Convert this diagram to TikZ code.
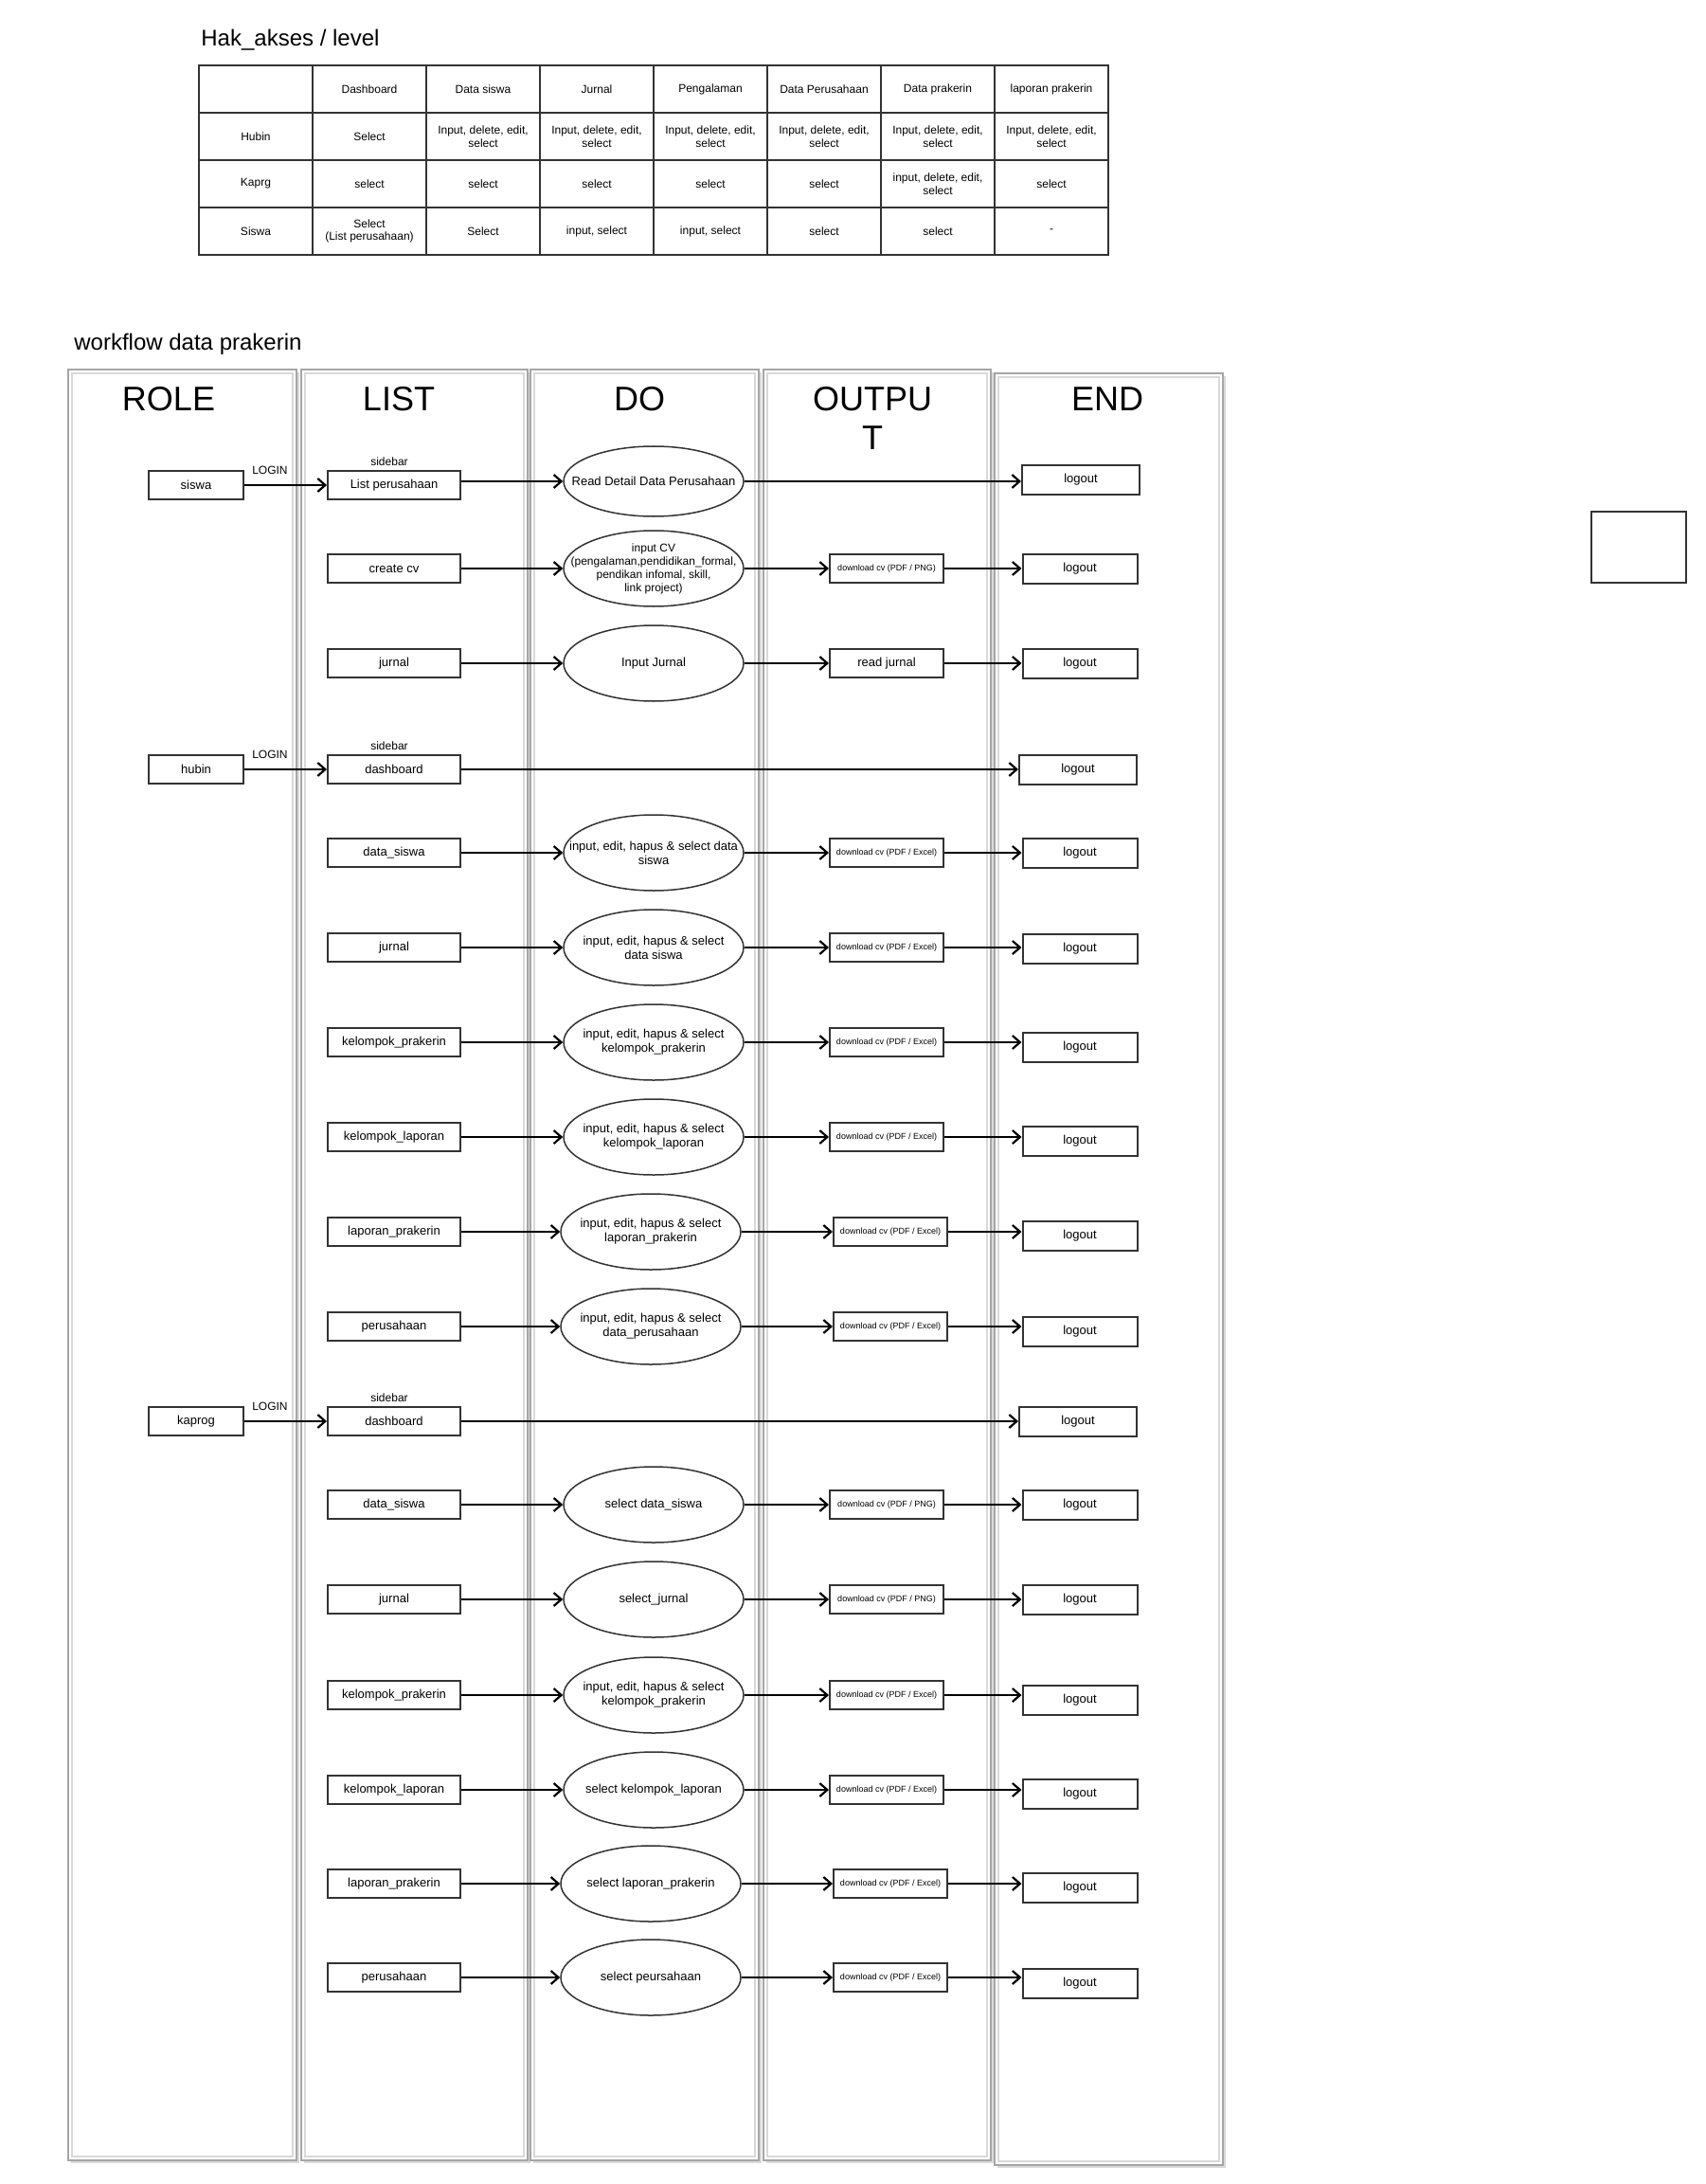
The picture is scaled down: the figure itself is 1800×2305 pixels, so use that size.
\documentclass[tikz,border=0pt]{standalone}
\usepackage{fontspec}
\setmainfont{Liberation Sans}
\usepackage{tikz}
\usetikzlibrary{positioning}
\usetikzlibrary{shapes.geometric}
\usetikzlibrary{arrows.meta}
\usetikzlibrary{shadows}

\begin{document}
\begin{tikzpicture}[x=0.5pt,y=-0.5pt,
  >={Straight Barb[length=4pt,width=7pt]},
  tline/.style={draw=black!80, line width=0.9pt},
  cell/.style={inner sep=0pt, align=center, font=\fontsize{6}{6.8}\selectfont},
  title/.style={anchor=west, inner sep=0pt, font=\fontsize{12}{14}\selectfont},
  lane/.style={draw=gray!70, line width=0.9pt, fill=white, drop shadow={shadow xshift=1.5pt, shadow yshift=-1.5pt, fill=gray!30, opacity=1}},
  lanein/.style={draw=gray!30, line width=0.6pt},
  hdr/.style={inner sep=0pt, align=center, font=\fontsize{18}{20.5}\selectfont},
  box/.style={draw=black!80, line width=1pt, minimum width=70pt, minimum height=15pt, inner sep=1pt, font=\fontsize{6.5}{7.5}\selectfont},
  rolebox/.style={box, minimum width=50pt},
  outbox/.style={box, minimum width=60pt, font=\fontsize{4.5}{5.5}\selectfont},
  endbox/.style={box, minimum width=60.5pt, minimum height=15.5pt},
  procshape/.style={ellipse, draw=black!80, line width=0.75pt, minimum width=95pt, minimum height=40pt, inner sep=0pt},
  ptxt/.style={inner sep=0pt, align=center, font=\fontsize{6.5}{7.5}\selectfont},
  proc/.style={procshape, label={[ptxt]center:#1}},
  procsm/.style={procshape, label={[ptxt, font=\fontsize{6}{7}\selectfont]center:#1}},
  lbl/.style={inner sep=0pt, font=\fontsize{6}{7}\selectfont},
  flow/.style={->, line width=1.1pt}
]
\useasboundingbox (0,0) rectangle (1800,2305);

% Hak akses table
\node[title] (hakTitle) at (212,42) {Hak\_akses / level};
\draw[tline] (210,69) rectangle (1170,269);
\draw[tline] (330,69) -- (330,269);
\draw[tline] (450,69) -- (450,269);
\draw[tline] (570,69) -- (570,269);
\draw[tline] (690,69) -- (690,269);
\draw[tline] (810,69) -- (810,269);
\draw[tline] (930,69) -- (930,269);
\draw[tline] (1050,69) -- (1050,269);
\draw[tline] (210,119) -- (1170,119);
\draw[tline] (210,169) -- (1170,169);
\draw[tline] (210,219) -- (1170,219);

\node[cell] (tDash) at (390,94) {Dashboard};
\node[cell] (tSiswa) at (510,94) {Data siswa};
\node[cell] (tJurnal) at (630,94) {Jurnal};
\node[cell] (tPeng) at (750,94) {Pengalaman};
\node[cell] (tPer) at (870,94) {Data Perusahaan};
\node[cell] (tPrak) at (990,94) {Data prakerin};
\node[cell] (tLap) at (1110,94) {laporan prakerin};

\node[cell] (tHubin) at (270,144) {Hubin};
\node[cell] (tHubin1) at (390,144) {Select};
\node[cell] (tHubin2) at (510,144) {Input, delete, edit,\\select};
\node[cell] (tHubin3) at (630,144) {Input, delete, edit,\\select};
\node[cell] (tHubin4) at (750,144) {Input, delete, edit,\\select};
\node[cell] (tHubin5) at (870,144) {Input, delete, edit,\\select};
\node[cell] (tHubin6) at (990,144) {Input, delete, edit,\\select};
\node[cell] (tHubin7) at (1110,144) {Input, delete, edit,\\select};

\node[cell] (tKaprg) at (270,194) {Kaprg};
\node[cell] (tKaprg1) at (390,194) {select};
\node[cell] (tKaprg2) at (510,194) {select};
\node[cell] (tKaprg3) at (630,194) {select};
\node[cell] (tKaprg4) at (750,194) {select};
\node[cell] (tKaprg5) at (870,194) {select};
\node[cell] (tKaprg6) at (990,194) {input, delete, edit,\\select};
\node[cell] (tKaprg7) at (1110,194) {select};

\node[cell] (tSis) at (270,244) {Siswa};
\node[cell] (tSis1) at (390,244) {Select\\(List perusahaan)};
\node[cell] (tSis2) at (510,244) {Select};
\node[cell] (tSis3) at (630,244) {input, select};
\node[cell] (tSis4) at (750,244) {input, select};
\node[cell] (tSis5) at (870,244) {select};
\node[cell] (tSis6) at (990,244) {select};
\node[cell] (tSis7) at (1110,244) {-};

% Lanes
\node[title] (wfTitle) at (78,363) {workflow data prakerin};
\draw[lane] (72,390) rectangle (313,2280);
\draw[lane] (318,390) rectangle (557,2280);
\draw[lane] (560,390) rectangle (801,2280);
\draw[lane] (806,390) rectangle (1046,2280);
\draw[lane] (1050,394) rectangle (1291,2285);
\draw[lanein] (76,394) rectangle (309,2276);
\draw[lanein] (322,394) rectangle (553,2276);
\draw[lanein] (564,394) rectangle (797,2276);
\draw[lanein] (810,394) rectangle (1042,2276);
\draw[lanein] (1054,398) rectangle (1287,2281);

\node[hdr] (headRole) at (178,421) {ROLE};
\node[hdr] (headList) at (421,421) {LIST};
\node[hdr] (headDo) at (675,421) {DO};
\node[hdr] (headOut) at (921,441) {OUTPU\\T};
\node[hdr] (headEnd) at (1169,421) {END};

% Empty box
\node[draw=black!80, line width=1pt, minimum width=50pt, minimum height=37.5pt] (blank) at (1730,577.5) {};

% siswa
\node[rolebox] (siswa) at (207,512) {siswa};
\node[box] (sList) at (416,512) {List perusahaan};
\node[lbl, above=2pt of sList, xshift=-2.5pt] (sSide) {sidebar};
\node[proc={Read Detail Data Perusahaan}, minimum height=37pt] (sListDo) at (690,508) {};
\node[endbox, minimum width=62pt] (sListEnd) at (1141,506) {logout};
\draw[flow] (siswa) -- (sList) node[lbl, above=5.3pt, pos=0.31] (sLogin) {LOGIN};
\draw[flow] (sList.east |- sListDo) -- (sListDo);
\draw[flow] (sListDo) -- (sListDo -| sListEnd.west);

\node[box] (sCv) at (416,600) {create cv};
\node[procsm={input CV\\(pengalaman,pendidikan\_formal,\\pendikan infomal, skill,\\link project)}] (sCvDo) at (690,600) {};
\node[outbox] (sCvOut) at (936,600) {download cv (PDF / PNG)};
\node[endbox] (sCvEnd) at (1140,600) {logout};
\draw[flow] (sCv) -- (sCvDo);
\draw[flow] (sCvDo) -- (sCvOut);
\draw[flow] (sCvOut) -- (sCvEnd);

\node[box] (sJurnal) at (416,700) {jurnal};
\node[proc={Input Jurnal}] (sJurnalDo) at (690,700) {};
\node[outbox, font=\fontsize{6.5}{7.5}\selectfont] (sJurnalOut) at (936,700) {read jurnal};
\node[endbox] (sJurnalEnd) at (1140,700) {logout};
\draw[flow] (sJurnal) -- (sJurnalDo);
\draw[flow] (sJurnalDo) -- (sJurnalOut);
\draw[flow] (sJurnalOut) -- (sJurnalEnd);

% hubin
\node[rolebox] (hubin) at (207,812) {hubin};
\node[box] (hDash) at (416,812) {dashboard};
\node[lbl, above=2pt of hDash, xshift=-2.5pt] (hSide) {sidebar};
\node[endbox, minimum width=62pt] (hDashEnd) at (1138,812) {logout};
\draw[flow] (hubin) -- (hDash) node[lbl, above=5.3pt, pos=0.31] (hLogin) {LOGIN};
\draw[flow] (hDash) -- (hDashEnd);

\node[box] (hSiswa) at (416,900) {data\_siswa};
\node[proc={input, edit, hapus \& select data\\siswa}] (hSiswaDo) at (690,900) {};
\node[outbox] (hSiswaOut) at (936,900) {download cv (PDF / Excel)};
\node[endbox] (hSiswaEnd) at (1140,900) {logout};
\draw[flow] (hSiswa) -- (hSiswaDo);
\draw[flow] (hSiswaDo) -- (hSiswaOut);
\draw[flow] (hSiswaOut) -- (hSiswaEnd);

\node[box] (hJurnal) at (416,1000) {jurnal};
\node[proc={input, edit, hapus \& select\\data siswa}] (hJurnalDo) at (690,1000) {};
\node[outbox] (hJurnalOut) at (936,1000) {download cv (PDF / Excel)};
\node[endbox] (hJurnalEnd) at (1140,1001) {logout};
\draw[flow] (hJurnal) -- (hJurnalDo);
\draw[flow] (hJurnalDo) -- (hJurnalOut);
\draw[flow] (hJurnalOut) -- (hJurnalOut -| hJurnalEnd.west);

\node[box] (hKp) at (416,1100) {kelompok\_prakerin};
\node[proc={input, edit, hapus \& select\\kelompok\_prakerin}] (hKpDo) at (690,1100) {};
\node[outbox] (hKpOut) at (936,1100) {download cv (PDF / Excel)};
\node[endbox] (hKpEnd) at (1140,1105) {logout};
\draw[flow] (hKp) -- (hKpDo);
\draw[flow] (hKpDo) -- (hKpOut);
\draw[flow] (hKpOut) -- (hKpOut -| hKpEnd.west);

\node[box] (hKl) at (416,1200) {kelompok\_laporan};
\node[proc={input, edit, hapus \& select\\kelompok\_laporan}] (hKlDo) at (690,1200) {};
\node[outbox] (hKlOut) at (936,1200) {download cv (PDF / Excel)};
\node[endbox] (hKlEnd) at (1140,1204) {logout};
\draw[flow] (hKl) -- (hKlDo);
\draw[flow] (hKlDo) -- (hKlOut);
\draw[flow] (hKlOut) -- (hKlOut -| hKlEnd.west);

\node[box] (hLp) at (416,1300) {laporan\_prakerin};
\node[proc={input, edit, hapus \& select\\laporan\_prakerin}] (hLpDo) at (687,1300) {};
\node[outbox] (hLpOut) at (940,1300) {download cv (PDF / Excel)};
\node[endbox] (hLpEnd) at (1140,1304) {logout};
\draw[flow] (hLp) -- (hLpDo);
\draw[flow] (hLpDo) -- (hLpOut);
\draw[flow] (hLpOut) -- (hLpOut -| hLpEnd.west);

\node[box] (hPer) at (416,1400) {perusahaan};
\node[proc={input, edit, hapus \& select\\data\_perusahaan}] (hPerDo) at (687,1400) {};
\node[outbox] (hPerOut) at (940,1400) {download cv (PDF / Excel)};
\node[endbox] (hPerEnd) at (1140,1405) {logout};
\draw[flow] (hPer) -- (hPerDo);
\draw[flow] (hPerDo) -- (hPerOut);
\draw[flow] (hPerOut) -- (hPerOut -| hPerEnd.west);

% kaprog
\node[rolebox] (kaprog) at (207,1500) {kaprog};
\node[box] (kDash) at (416,1500) {dashboard};
\node[lbl, above=2pt of kDash, xshift=-2.5pt] (kSide) {sidebar};
\node[endbox, minimum width=62pt] (kDashEnd) at (1138,1500) {logout};
\draw[flow] (kaprog) -- (kDash) node[lbl, above=5.3pt, pos=0.31] (kLogin) {LOGIN};
\draw[flow] (kDash) -- (kDashEnd);

\node[box] (kSiswa) at (416,1588) {data\_siswa};
\node[proc={select data\_siswa}] (kSiswaDo) at (690,1588) {};
\node[outbox] (kSiswaOut) at (936,1588) {download cv (PDF / PNG)};
\node[endbox] (kSiswaEnd) at (1140,1588) {logout};
\draw[flow] (kSiswa) -- (kSiswaDo);
\draw[flow] (kSiswaDo) -- (kSiswaOut);
\draw[flow] (kSiswaOut) -- (kSiswaEnd);

\node[box] (kJurnal) at (416,1688) {jurnal};
\node[proc={select\_jurnal}] (kJurnalDo) at (690,1688) {};
\node[outbox] (kJurnalOut) at (936,1688) {download cv (PDF / PNG)};
\node[endbox] (kJurnalEnd) at (1140,1688) {logout};
\draw[flow] (kJurnal) -- (kJurnalDo);
\draw[flow] (kJurnalDo) -- (kJurnalOut);
\draw[flow] (kJurnalOut) -- (kJurnalEnd);

\node[box] (kKp) at (416,1789) {kelompok\_prakerin};
\node[proc={input, edit, hapus \& select\\kelompok\_prakerin}] (kKpDo) at (690,1789) {};
\node[outbox] (kKpOut) at (936,1789) {download cv (PDF / Excel)};
\node[endbox] (kKpEnd) at (1140,1794) {logout};
\draw[flow] (kKp) -- (kKpDo);
\draw[flow] (kKpDo) -- (kKpOut);
\draw[flow] (kKpOut) -- (kKpOut -| kKpEnd.west);

\node[box] (kKl) at (416,1889) {kelompok\_laporan};
\node[proc={select kelompok\_laporan}] (kKlDo) at (690,1889) {};
\node[outbox] (kKlOut) at (936,1889) {download cv (PDF / Excel)};
\node[endbox] (kKlEnd) at (1140,1893) {logout};
\draw[flow] (kKl) -- (kKlDo);
\draw[flow] (kKlDo) -- (kKlOut);
\draw[flow] (kKlOut) -- (kKlOut -| kKlEnd.west);

\node[box] (kLp) at (416,1988) {laporan\_prakerin};
\node[proc={select laporan\_prakerin}] (kLpDo) at (687,1988) {};
\node[outbox] (kLpOut) at (940,1988) {download cv (PDF / Excel)};
\node[endbox] (kLpEnd) at (1140,1992) {logout};
\draw[flow] (kLp) -- (kLpDo);
\draw[flow] (kLpDo) -- (kLpOut);
\draw[flow] (kLpOut) -- (kLpOut -| kLpEnd.west);

\node[box] (kPer) at (416,2087) {perusahaan};
\node[proc={select peursahaan}] (kPerDo) at (687,2087) {};
\node[outbox] (kPerOut) at (940,2087) {download cv (PDF / Excel)};
\node[endbox] (kPerEnd) at (1140,2093) {logout};
\draw[flow] (kPer) -- (kPerDo);
\draw[flow] (kPerDo) -- (kPerOut);
\draw[flow] (kPerOut) -- (kPerOut -| kPerEnd.west);

\end{tikzpicture}
\end{document}
